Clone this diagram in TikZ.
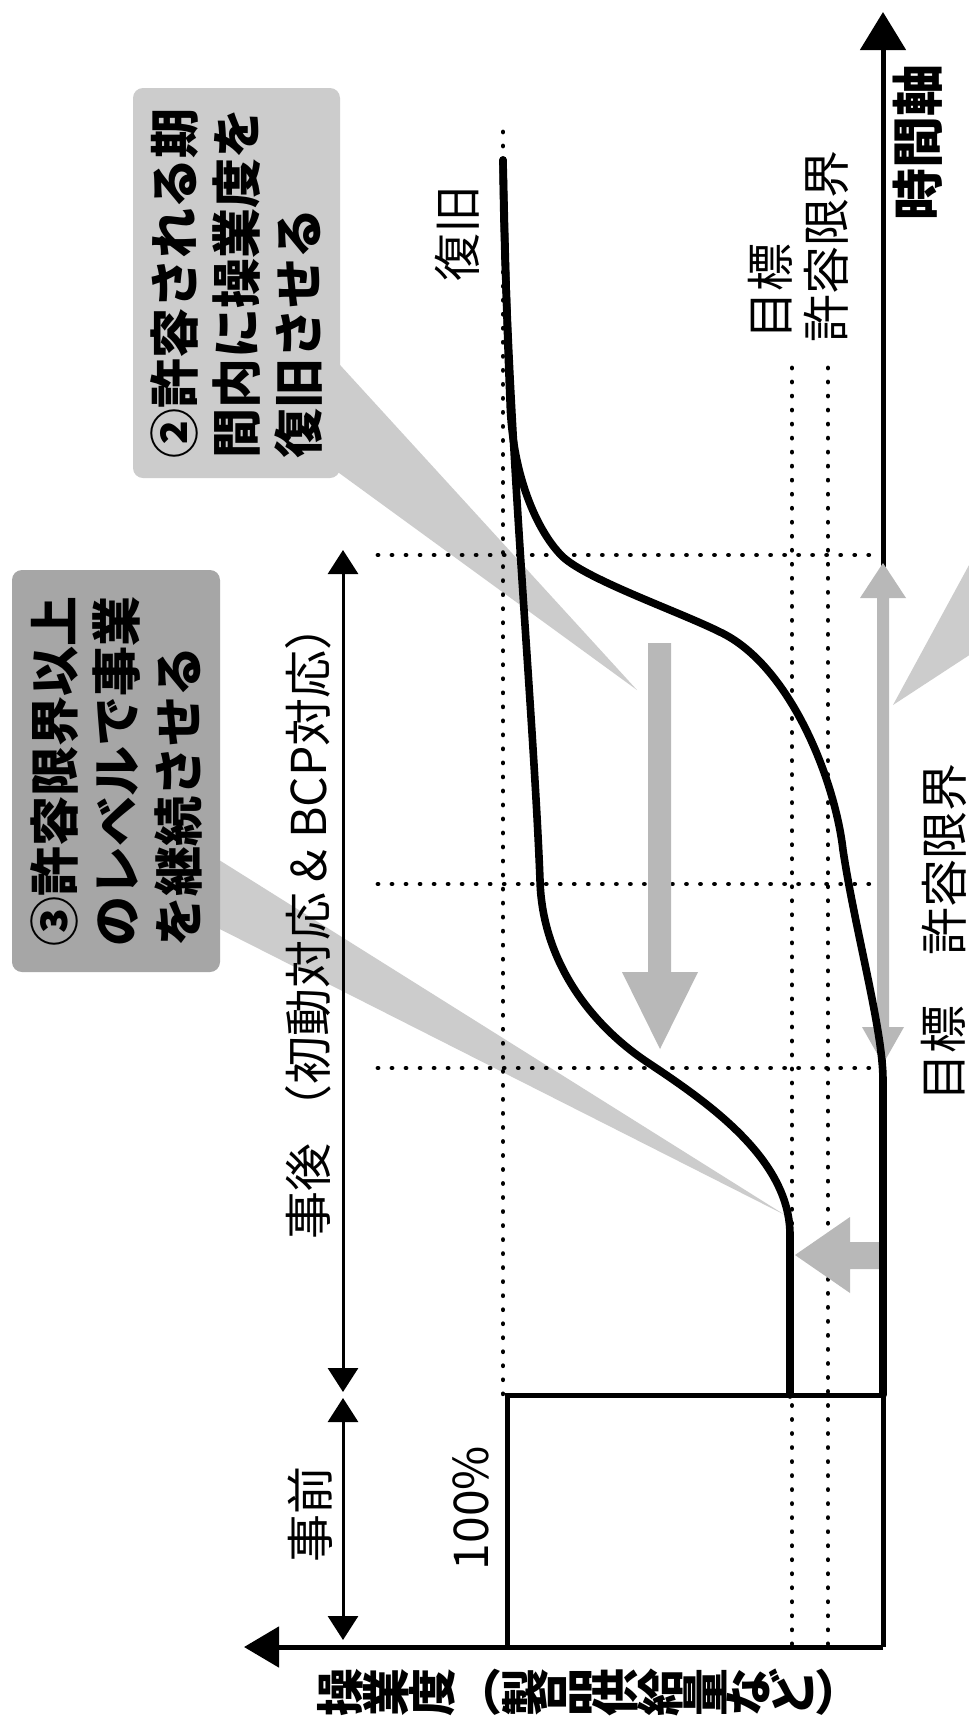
\documentclass[tikz,border=0pt]{standalone}
\usepackage{fontspec}
\newfontfamily\jp{Noto Sans CJK JP}
\usetikzlibrary{arrows.meta}
\newcommand\rotch[1]{\rotatebox{90}{#1}}
\begin{document}
\begin{tikzpicture}[x=0.5pt,y=-0.5pt,
  every node/.style={font=\jp, inner sep=0pt},
  lbl/.style={rotate=90, font=\jp\fontsize{24}{24}\selectfont},
  boldlbl/.style={rotate=90, font=\jp\bfseries\fontsize{26}{26}\selectfont},
  callout/.style={rotate=90, rounded corners=5pt, align=left, font=\jp\bfseries\fontsize{25}{31}\selectfont},
  dotline/.style={line width=2.4pt, dash pattern=on 0.01pt off 7pt, line cap=round},
  curve/.style={line width=3.8pt, line cap=round, line join=round},
  axisline/.style={line width=2.5pt},
  boxline/.style={line width=2.5pt, line join=miter},
  dimline/.style={line width=1.5pt, {Triangle[length=12pt,width=15pt]}-{Triangle[length=12pt,width=15pt]}},
  wedge/.style={fill=black!20},
  garrow/.style={fill=black!28}]
\useasboundingbox (0,0) rectangle (969,1731);
\clip (0,0) rectangle (969,1731);
\fill[white] (0,0) rectangle (969,1731);

% coordinates
\coordinate (O) at (883,1647);
\coordinate (Ttip) at (883,12);
\coordinate (Ytip) at (244,1647);

% callout wedges
\fill[wedge] (200,848) -- (785,1215) -- (200,919) -- cycle;
\fill[wedge] (330,354) -- (637,690) -- (335,470) -- cycle;
\fill[wedge] (893,705) -- (1000,508) -- (1000,635) -- cycle;

% callout boxes
\node[callout, fill=black!35, minimum width=201pt, minimum height=104pt] (b3) at (116,771) {③許容限界以上\\のレベルで事業\\を継続させる};
\node[callout, fill=black!20, minimum width=195pt, minimum height=103.5pt] (b2) at (236.5,283) {②許容される期\\間内に操業度を\\復旧させる};

% dotted guide lines
\draw[dotline] (378,555) -- (878,555);
\draw[dotline] (378,884) -- (878,884);
\draw[dotline] (378,1068) -- (878,1068);
\draw[dotline] (503,132) -- (503,1395);
\draw[dotline] (792,368) -- (792,1647);
\draw[dotline] (828,368) -- (828,1647);

% axes
\draw[axisline, -{Triangle[length=19pt,width=22.5pt]}] (O) -- (Ttip);
\draw[axisline, -{Triangle[length=17.5pt,width=20pt]}] (O) -- (Ytip);

% 100% box
\draw[boxline] (507,1647) -- (507,1395) -- (883,1395);

% grey arrows
\fill[garrow] (648,643) -- (671,643) -- (671,972) -- (698,972) -- (660,1049) -- (622,972) -- (648,972) -- cycle;
\fill[garrow] (883,563) -- (906,598) -- (889,598) -- (889,1027) -- (904,1027) -- (883,1064) -- (862,1027) -- (877,1027) -- (877,598) -- (860,598) -- cycle;
\fill[garrow] (795,1255) -- (850,1217) -- (850,1242) -- (882,1242) -- (882,1269) -- (850,1269) -- (850,1293) -- cycle;

% curves
\draw[curve] (790,1395) -- (790,1235) .. controls (790,1160) and (710,1104) .. (650,1064)
  .. controls (590,1025) and (542,960) .. (540,880)
  .. controls (533,700) and (505,400) .. (503,160);
\draw[curve] (883,1395) -- (883,1080) .. controls (883,1030) and (855,930) .. (843,850)
  .. controls (835,780) and (790,665) .. (720,632)
  .. controls (680,612) and (588,580) .. (563,557)
  .. controls (540,535) and (512,480) .. (510,400)
  .. controls (507,330) and (505,250) .. (503,160);

% period arrows
\draw[dimline] (343,550) -- (343,1392);
\draw[dimline] (343,1398) -- (343,1640);

% labels
\node[lbl] (jigo) at (308,921) {事後 （初動対応 \& BCP対応）};
\node[lbl] (jizen) at (310,1514) {事前};
\node[lbl] (pct) at (471,1508) {100\%};
\node[lbl] (fukkyu) at (457,233) {復旧};
\node[lbl, anchor=west] (mk1) at (770,340) {目標};
\node[lbl, anchor=west] (gk1) at (826,343) {許容限界};
\node[boldlbl] (timeax) at (918,142) {時間軸};
\node[lbl] (mk2) at (943,1053) {目標};
\node[lbl] (gk2) at (944,859) {許容限界};
\node[font=\jp\bfseries\fontsize{24}{24}\selectfont] (ylab) at (590,1692)
  {\rotch{操}\rotch{業}\rotch{度}\raisebox{.12em}{（}\rotch{製}\rotch{品}\rotch{供}\rotch{給}\rotch{量}\rotch{な}\rotch{ど}\raisebox{.12em}{）}};
\end{tikzpicture}
\end{document}
